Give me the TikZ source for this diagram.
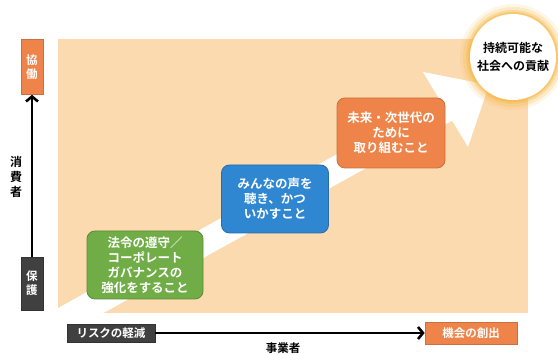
\documentclass[tikz,border=0pt]{standalone}
\usepackage{fontspec}
\setmainfont{Noto Sans CJK JP}[BoldFont={Noto Sans CJK JP Bold}]
\usetikzlibrary{arrows.meta}
\definecolor{peach}{HTML}{FCDAB0}
\definecolor{leafgreen}{HTML}{70AD47}
\definecolor{skyblue}{HTML}{2F87D2}
\definecolor{tangerine}{HTML}{EE8449}
\definecolor{slate}{HTML}{404040}
\definecolor{halo}{HTML}{F5B43C}
\tikzset{
  stepcard/.style={rounded corners=8pt, text=white, align=center, inner sep=0pt,
    line width=0.8pt, font=\bfseries\fontsize{12.5}{15}\selectfont},
  axistag/.style={text=white, align=center, inner sep=0pt, line width=0.6pt,
    font=\bfseries\fontsize{11.5}{14}\selectfont},
  axisline/.style={line width=2.6pt, -{Straight Barb[length=5pt,width=12pt]}}
}
\begin{document}
\begin{tikzpicture}[x=1pt,y=-1pt]
    \useasboundingbox (0,0) rectangle (558,355);
    \fill[peach] (58,39) rectangle (528,313);
    \begin{scope}
      \clip (58,39) rectangle (528,313);
      \fill[white] (20,329) -- (438.6,98.1) -- (423,72) -- (489,85)
        -- (468,147) -- (452.2,120.6) -- (20,359) -- cycle;
    \end{scope}
    \foreach \r/\o in {53/0.12,50/0.2,47/0.3,45/0.45}
      \fill[halo,opacity=\o] (513,57) circle (\r);
    \node[circle, fill=white, minimum size=86pt, inner sep=0pt, align=center,
      font=\bfseries\fontsize{12}{18}\selectfont] (goal) at (513,57)
      {持続可能な\\社会への貢献};
    \node[stepcard, fill=leafgreen, draw=leafgreen!80!black,
      minimum width=116pt, minimum height=68pt] (comply) at (145,265)
      {法令の遵守／\\コーポレート\\ガバナンスの\\強化をすること};
    \node[stepcard, fill=skyblue, draw=skyblue!80!black,
      minimum width=107pt, minimum height=68pt] (listen) at (275,199)
      {みんなの声を\\聴き、かつ\\いかすこと};
    \node[stepcard, fill=tangerine, draw=tangerine!85!black,
      minimum width=108pt, minimum height=70pt] (future) at (391,133)
      {未来・次世代の\\ために\\取り組むこと};
    \node[axistag, fill=tangerine, draw=tangerine!85!black,
      minimum width=22pt, minimum height=55pt] (kyodo) at (32,67) {協\\働};
    \node[axistag, fill=slate, draw=slate!80!black,
      minimum width=22pt, minimum height=53pt] (hogo) at (32,283.5) {保\\護};
    \node[align=center, inner sep=0pt, font=\bfseries\fontsize{12}{15}\selectfont]
      (shohisha) at (16,177) {消\\費\\者};
    \draw[axisline] (hogo) -- (kyodo);
    \node[axistag, fill=slate, draw=slate!80!black,
      minimum width=88pt, minimum height=18pt] (risk) at (111,333) {リスクの軽減};
    \node[axistag, fill=tangerine, draw=tangerine!85!black,
      minimum width=92pt, minimum height=22pt] (kikai) at (471,333) {機会の創出};
    \draw[axisline] (risk) -- (kikai);
    \node[anchor=north, inner sep=0pt, font=\bfseries\fontsize{11.5}{14}\selectfont]
      (jigyosha) at (283,343) {事業者};
\end{tikzpicture}
\end{document}
